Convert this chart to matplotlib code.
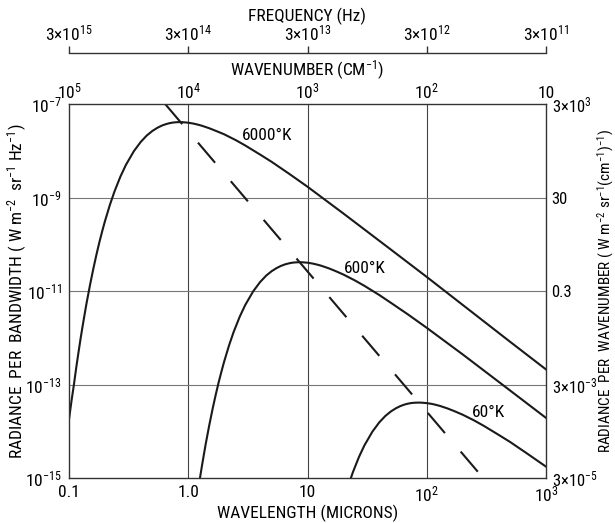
import matplotlib
matplotlib.use("Agg")
import matplotlib.pyplot as plt
from matplotlib import font_manager

# ==========================
# Font: cerca una variante stretta (condensed / narrow)
# ==========================
font = None
stretch = "normal"
preferiti = ["Roboto Condensed", "Liberation Sans Narrow", "Open Sans Condensed", "Noto Sans Condensed"]
elenco = font_manager.fontManager.ttflist
for nome in preferiti:
    if any(f.name == nome for f in elenco):
        font = nome
        break
if font is None:
    for f in elenco:
        if f.name == "DejaVu Sans" and "ondensed" in str(f.stretch) + f.fname:
            font, stretch = "DejaVu Sans", "condensed"
            break
if font is None:
    for f in elenco:
        if "ondensed" in f.fname or "Narrow" in f.fname:
            font = f.name
            stretch = f.stretch
            break
if font is None:
    font = "Roboto"

plt.rcParams["font.family"] = [font, "DejaVu Sans"]
plt.rcParams["font.stretch"] = stretch
plt.rcParams["mathtext.fontset"] = "custom"
plt.rcParams["mathtext.rm"] = font
plt.rcParams["mathtext.it"] = font
plt.rcParams["mathtext.bf"] = font
plt.rcParams["lines.scale_dashes"] = False

# ==========================
# Dati
# ==========================

# lunghezza d'onda (micron) e radianza (W m-2 sr-1 Hz-1)
lam_6000 = [0.1, 0.105, 0.11, 0.115, 0.12, 0.125, 0.13, 0.135, 0.14, 0.15, 0.16, 0.17, 0.18,
            0.19, 0.2, 0.22, 0.24, 0.27, 0.3, 0.35, 0.4, 0.45, 0.5, 0.55, 0.6, 0.65, 0.7, 0.75,
            0.8, 0.85, 0.9, 1.0, 1.1, 1.2, 1.3, 1.5, 1.7, 2, 2.5, 3, 4, 5, 7, 10, 20, 50, 100,
            200, 500, 1000]
rad_6000 = [1.8e-14, 4.5e-14, 1.0e-13, 2.3e-13, 4.8e-13, 9.5e-13, 1.76e-12, 3.1e-12, 5.3e-12,
            1.34e-11, 3.0e-11, 6.05e-11, 1.12e-10, 1.91e-10, 3.09e-10, 6.9e-10, 1.32e-9, 2.81e-9,
            4.98e-9, 9.8e-9, 1.55e-8, 2.13e-8, 2.65e-8, 3.09e-8, 3.45e-8, 3.71e-8, 3.9e-8,
            4.02e-8, 4.08e-8, 4.1e-8, 4.08e-8, 3.98e-8, 3.82e-8, 3.63e-8, 3.43e-8, 3.03e-8,
            2.67e-8, 2.25e-8, 1.69e-8, 1.3e-8, 8.3e-9, 5.8e-9, 3.23e-9, 1.7e-9, 4.55e-10,
            7.7e-11, 2.0e-11, 5.05e-12, 8.2e-13, 2.1e-13]

lam_600 = [1.2, 1.25, 1.3, 1.35, 1.4, 1.5, 1.6, 1.7, 1.8, 1.9, 2.0, 2.2, 2.4, 2.7, 3.0, 3.5, 4,
           4.5, 5, 5.5, 6, 6.5, 7, 7.5, 8, 8.5, 9, 10, 11, 12, 13, 15, 17, 20, 25, 30, 40, 50,
           70, 100, 200, 500, 1000]
rad_600 = [4.8e-16, 9.5e-16, 1.76e-15, 3.1e-15, 5.3e-15, 1.34e-14, 3.0e-14, 6.05e-14, 1.12e-13,
           1.91e-13, 3.09e-13, 6.9e-13, 1.32e-12, 2.81e-12, 4.98e-12, 9.8e-12, 1.55e-11,
           2.13e-11, 2.65e-11, 3.09e-11, 3.45e-11, 3.72e-11, 3.91e-11, 4.04e-11, 4.1e-11,
           4.13e-11, 4.12e-11, 4.03e-11, 3.87e-11, 3.68e-11, 3.48e-11, 3.07e-11, 2.7e-11,
           2.25e-11, 1.68e-11, 1.29e-11, 8.2e-12, 5.6e-12, 3.12e-12, 1.63e-12, 4.41e-13,
           7.44e-14, 1.93e-14]

lam_60 = [22, 24, 27, 30, 35, 40, 45, 50, 55, 60, 65, 70, 75, 80, 85, 90, 100, 110, 120, 130,
          150, 170, 200, 250, 300, 400, 500, 700, 1000]
rad_60 = [6.9e-16, 1.32e-15, 2.81e-15, 4.98e-15, 9.8e-15, 1.55e-14, 2.13e-14, 2.65e-14,
          3.09e-14, 3.45e-14, 3.72e-14, 3.91e-14, 4.03e-14, 4.08e-14, 4.1e-14, 4.09e-14,
          4.0e-14, 3.85e-14, 3.66e-14, 3.46e-14, 3.06e-14, 2.7e-14, 2.26e-14, 1.7e-14,
          1.31e-14, 8.4e-15, 5.9e-15, 3.29e-15, 1.75e-15]

# luogo dei massimi (tratteggiato)
lam_picco = [0.64, 297]
rad_picco = [1e-7, 1e-15]

# tick asse x principale (micron)
tick_lam = [0.1, 1, 10, 100, 1000]
label_lam = ["0.1", "1.0", "10", "10$^2$", "10$^3$"]

# tick asse y sinistro
tick_rad = [1e-15, 1e-13, 1e-11, 1e-9, 1e-7]
label_rad = ["10$^{-15}$", "10$^{-13}$", "10$^{-11}$", "10$^{-9}$", "10$^{-7}$"]

# asse destro: radianza per numero d'onda
tick_rad_wn = [3e-5, 3e-3, 0.3, 30, 3e3]
label_rad_wn = ["3×10$^{-5}$", "3×10$^{-3}$", "0.3", "30", "3×10$^{3}$"]

# numero d'onda (cm-1)
tick_wn = [1e5, 1e4, 1e3, 1e2, 10]
label_wn = ["10$^5$", "10$^4$", "10$^3$", "10$^2$", "10"]

# frequenza (Hz)
tick_freq = [3e15, 3e14, 3e13, 3e12, 3e11]
label_freq = ["3×10$^{15}$", "3×10$^{14}$", "3×10$^{13}$", "3×10$^{12}$", "3×10$^{11}$"]

# ==========================
# Grafico
# ==========================
W, H = 615, 523
sx, dx, su, giu = 69, 546, 104, 478
fs_tick = 12.5
fs_lab = 12.5

fig = plt.figure(figsize=(W / 100, H / 100), dpi=100)
ax = fig.add_axes([sx / W, 1 - giu / H, (dx - sx) / W, (giu - su) / H])

col = "#1a1a1a"
ax.plot(lam_6000, rad_6000, color=col, lw=1.5)
ax.plot(lam_600, rad_600, color=col, lw=1.5)
ax.plot(lam_60, rad_60, color=col, lw=1.5)
ax.plot(lam_picco, rad_picco, color=col, lw=1.5, dashes=(19, 17.5))

ax.set_xscale("log")
ax.set_yscale("log")
ax.set_xlim(0.1, 1000)
ax.set_ylim(1e-15, 1e-7)

ax.set_xticks(tick_lam)
ax.set_xticklabels(label_lam)
ax.set_yticks(tick_rad)
ax.set_yticklabels(label_rad)
ax.minorticks_off()
ax.tick_params(length=0, labelsize=fs_tick, pad=5)
ax.tick_params(axis="x", pad=5)

for v in tick_lam[1:-1]:
    ax.axvline(v, color="#444444", lw=0.8, zorder=0)
for v in tick_rad[1:-1]:
    ax.axhline(v, color="#777777", lw=0.8, zorder=0)

for s in ax.spines.values():
    s.set_linewidth(1.0)
    s.set_color("#333333")

ax.set_xlabel("WAVELENGTH (MICRONS)", fontsize=fs_lab, labelpad=0)
ax.set_ylabel("RADIANCE  PER  BANDWIDTH ( W m$^{-2}$  sr$^{-1}$ Hz$^{-1}$)", fontsize=fs_lab)
ax.yaxis.set_label_coords(-0.084, 0.5)

ax.text(4.6, 2.1e-8, "6000°K", fontsize=12.5, ha="center", va="center")
ax.text(30, 3.1e-11, "600°K", fontsize=12.5, ha="center", va="center")
ax.text(330, 2.5e-14, "60°K", fontsize=12.5, ha="center", va="center")

# asse destro
ax_r = ax.twinx()
ax_r.set_yscale("log")
ax_r.set_ylim(3e-5, 3e3)
ax_r.set_yticks(tick_rad_wn)
ax_r.set_yticklabels(label_rad_wn)
ax_r.minorticks_off()
ax_r.tick_params(length=0, labelsize=12, pad=4)
ax_r.set_ylabel("RADIANCE  PER  WAVENUMBER ( W m$^{-2}$ sr$^{-1}$(cm$^{-1}$)$^{-1}$)", fontsize=11)
ax_r.yaxis.set_label_coords(1.104, 0.5)
for s in ax_r.spines.values():
    s.set_visible(False)

# asse superiore: numero d'onda
ax_t = ax.twiny()
ax_t.set_xscale("log")
ax_t.set_xlim(0.1, 1000)
ax_t.set_xticks([1e4 / w for w in tick_wn])
ax_t.set_xticklabels(label_wn)
ax_t.minorticks_off()
ax_t.tick_params(length=0, labelsize=fs_tick, pad=2)
ax_t.set_xlabel("WAVENUMBER (CM$^{-1}$)", fontsize=fs_lab, labelpad=4)
for s in ax_t.spines.values():
    s.set_visible(False)

# asse frequenza separato in alto
y_f = 54
ax_f = fig.add_axes([sx / W, 1 - y_f / H, (dx - sx) / W, 0.001])
ax_f.set_xscale("log")
ax_f.set_xlim(0.1, 1000)
ax_f.set_xticks([3e14 / f for f in tick_freq])
ax_f.set_xticklabels(label_freq)
ax_f.minorticks_off()
ax_f.xaxis.tick_top()
ax_f.xaxis.set_label_position("top")
ax_f.tick_params(axis="x", direction="out", length=5, width=1, labelsize=fs_tick, pad=2, color="#333333")
ax_f.set_yticks([])
for k in ["left", "right", "bottom"]:
    ax_f.spines[k].set_visible(False)
ax_f.spines["top"].set_linewidth(1.0)
ax_f.spines["top"].set_color("#333333")
ax_f.patch.set_visible(False)
ax_f.set_xlabel("FREQUENCY (Hz)", fontsize=fs_lab, labelpad=2)

fig.savefig("out.png", dpi=100)
plt.close()
